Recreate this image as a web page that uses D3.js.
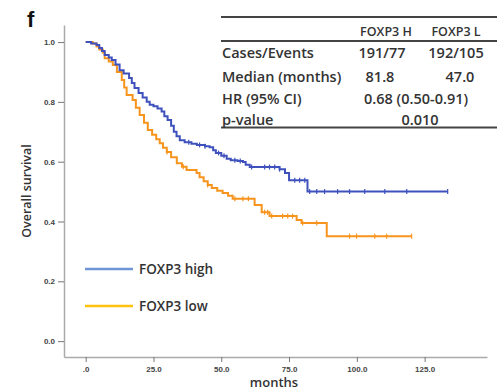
<!DOCTYPE html>
<html>
<head>
<meta charset="utf-8">
<script src="https://cdn.jsdelivr.net/npm/d3@7"></script>
<style>
  body { margin: 0; background: #fff; }
  svg { display: block; }
  text { font-family: "Open Sans", "Liberation Sans", sans-serif; }
</style>
</head>
<body>
<div class="container-chart"></div>
<script>
// ---- data ----
const seriesNames = ["FOXP3 high", "FOXP3 low"];

// step points [months, survival after the event]
const highSteps = [[0,1.0],[2,0.995],[4,0.99],[5,0.98],[6,0.97],[7,0.957],[8.5,0.948],[9.6,0.94],[11,0.925],[12.5,0.906],
  [14,0.895],[16,0.88],[17,0.863],[18,0.846],[19.5,0.83],[21,0.815],[22.5,0.80],[23.6,0.79],[25,0.785],[26.5,0.778],
  [28,0.768],[29,0.752],[30.2,0.739],[31.5,0.72],[32.5,0.70],[33.5,0.685],[34.7,0.672],[36.5,0.665],[39,0.66],[41,0.656],
  [44,0.652],[45.7,0.648],[47,0.638],[48,0.629],[50,0.62],[52,0.61],[53.5,0.605],[56,0.602],[58,0.599],[59,0.59],
  [60.5,0.582],[71.5,0.575],[73.5,0.562],[75,0.538],[81.8,0.50]];
const highEnd = 133.5;
const highCensored = [38, 42, 44, 49, 51, 55, 57, 61.2, 66, 67.8, 69.7, 71.5, 77.1, 78.9, 80.8, 82.6, 85.2, 88.1, 92.9, 97.3, 102.9, 110.3, 118.4, 133.5];

const lowSteps = [[0,1.0],[2.6,0.995],[4,0.985],[5,0.975],[6.3,0.965],[7,0.946],[8.5,0.935],[10,0.923],[11.5,0.9],[13.3,0.873],
  [14.2,0.848],[15.1,0.823],[17.3,0.806],[18.5,0.78],[19.9,0.756],[21.5,0.73],[22.9,0.706],[24.5,0.69],[26,0.675],[27.3,0.662],
  [28.5,0.647],[29.9,0.632],[31.5,0.615],[33.6,0.595],[35.5,0.583],[37.2,0.572],[40.9,0.562],[42,0.548],[43.5,0.535],[45,0.522],
  [46.5,0.512],[48.5,0.503],[50.5,0.495],[52.5,0.486],[54.2,0.476],[62.3,0.455],[64.9,0.431],[67.8,0.418],[77.8,0.405],[79.6,0.395],
  [88.9,0.351]];
const lowEnd = 120.2;
const lowCensored = [30, 36, 45, 55, 58, 60, 66, 67.1, 68.6, 72.6, 74.5, 76.3, 80, 85.2, 97.3, 99.9, 106.6, 111, 120.2];

const xTicks = [0, 25, 50, 75, 100, 125];
const xTickLabels = [".0", "25.0", "50.0", "75.0", "100.0", "125.0"];
const yTicks = [0, 0.2, 0.4, 0.6, 0.8, 1.0];
const yTickLabels = ["0.0", "0.2", "0.4", "0.6", "0.8", "1.0"];

const tableHeader = ["FOXP3 H", "FOXP3 L"];
const tableRows = ["Cases/Events", "Median (months)", "HR (95% CI)", "p-value"];
const casesEvents = ["191/77", "192/105"];
const medians = ["81.8", "47.0"];
const hrText = "0.68 (0.50-0.91)";
const pText = "0.010";

// ---- chart ----
const W = 504, H = 391;
const svg = d3.select(".container-chart").append("svg")
    .attr("width", W).attr("height", H);

const x = d3.scaleLinear().domain([-8, 148]).range([64, 487]);
const y = d3.scaleLinear().domain([-0.053, 1.057]).range([357, 25]);

const blue = "#3f51bd", orange = "#f7941d";

// axes
const gx = svg.append("g").attr("transform", `translate(0,${y(-0.053)})`)
    .call(d3.axisBottom(x).tickValues(xTicks).tickSize(5).tickSizeOuter(0)
        .tickFormat((d, i) => xTickLabels[i]));
const gy = svg.append("g").attr("transform", `translate(${x(-8)},0)`)
    .call(d3.axisLeft(y).tickValues(yTicks).tickSize(6).tickSizeOuter(0)
        .tickFormat((d, i) => yTickLabels[i]));
[gx, gy].forEach(g => {
  g.select(".domain").attr("stroke", "#aaa").attr("stroke-width", 1.5);
  g.selectAll(".tick line").attr("stroke", "#777");
  g.selectAll(".tick text").attr("fill", "#444").style("font-size", "8px")
      .style("font-weight", "700").style("font-family", "Liberation Sans, sans-serif");
});
gx.selectAll(".tick text").attr("dy", "0.9em");

// km curves
const line = d3.line().x(d => x(d[0])).y(d => y(d[1])).curve(d3.curveStepAfter);

function survAt(steps, t) {
  let s = 1;
  steps.forEach(p => { if (p[0] <= t) s = p[1]; });
  return s;
}

function drawCurve(steps, end, censored, color) {
  const pts = steps.concat([[end, steps[steps.length - 1][1]]]);
  svg.append("path").datum(pts)
      .attr("fill", "none").attr("stroke", color).attr("stroke-width", 2)
      .attr("d", line);
  svg.append("g").selectAll("line").data(censored).join("line")
      .attr("x1", d => x(d)).attr("x2", d => x(d))
      .attr("y1", d => y(survAt(steps, d)) - 2.5)
      .attr("y2", d => y(survAt(steps, d)) + 2.5)
      .attr("stroke", color).attr("stroke-width", 1.2);
}
drawCurve(lowSteps, lowEnd, lowCensored, orange);
drawCurve(highSteps, highEnd, highCensored, blue);

// axis titles
svg.append("text").attr("x", 274).attr("y", 387).attr("text-anchor", "middle")
    .style("font-size", "13px").style("font-weight", "600").attr("fill", "#333").text("months");
svg.append("text").attr("transform", "translate(31,191) rotate(-90)").attr("text-anchor", "middle")
    .style("font-size", "12.5px").style("font-weight", "600").attr("fill", "#333").text("Overall survival");

// panel letter
svg.append("text").attr("x", 27).attr("y", 27).style("font-size", "22px").style("font-weight", "700")
    .style("font-family", "Liberation Sans, sans-serif").attr("fill", "#111").text("f");

// legend
const legendColors = ["#6e96d6", "#ffc20e"];
const legend = svg.append("g");
seriesNames.forEach((name, i) => {
  const ly = 269 + i * 37;
  legend.append("line").attr("x1", 85).attr("x2", 133).attr("y1", ly).attr("y2", ly)
      .attr("stroke", legendColors[i]).attr("stroke-width", 2.5);
  legend.append("text").attr("x", 139).attr("y", ly).attr("dy", "0.35em")
      .style("font-size", "13.5px").style("font-weight", "600").attr("fill", "#333").text(name);
});

// stats table
const tbl = svg.append("g").style("font-size", "14.5px").style("font-weight", "600").attr("fill", "#333");
[17, 41, 127.5].forEach(ly => {
  tbl.append("line").attr("x1", 221).attr("x2", 497).attr("y1", ly).attr("y2", ly)
      .attr("stroke", "#444").attr("stroke-width", 2);
});
const colX = [386, 456];
tableHeader.forEach((h, i) => {
  tbl.append("text").attr("x", colX[i]).attr("y", 32).attr("dy", "0.35em")
      .attr("text-anchor", "middle").style("font-size", "12.5px").text(h);
});
const rowY = [53, 77, 99, 120];
tableRows.forEach((r, i) => {
  tbl.append("text").attr("x", 222).attr("y", rowY[i]).attr("dy", "0.35em").text(r);
});
[casesEvents, medians].forEach((vals, r) => {
  vals.forEach((v, i) => {
    tbl.append("text").attr("x", r === 0 ? [382, 456][i] : [380, 460][i]).attr("y", rowY[r])
        .attr("dy", "0.35em").attr("text-anchor", "middle").text(v);
  });
});
tbl.append("text").attr("x", 416).attr("y", rowY[2]).attr("dy", "0.35em").attr("text-anchor", "middle").text(hrText);
tbl.append("text").attr("x", 420).attr("y", rowY[3]).attr("dy", "0.35em").attr("text-anchor", "middle").text(pText);
</script>
</body>
</html>
